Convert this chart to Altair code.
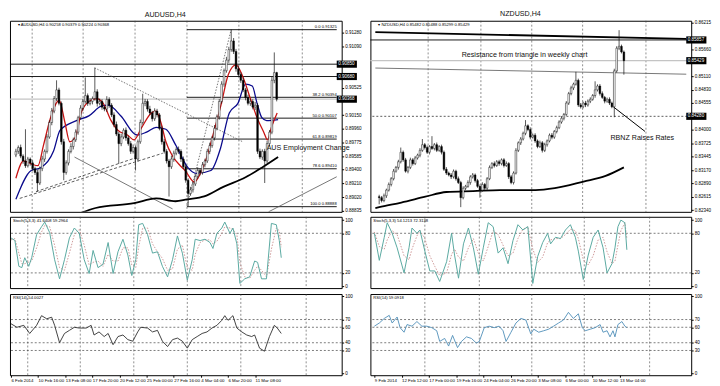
import altair as alt
import pandas as pd

FONT = "Liberation Sans"

# ===================== AUDUSD, H4 =====================
AUD_OPEN0 = 0.89600
AUD_CLOSE = [
    0.89650, 0.89703, 0.89584, 0.89518, 0.89452, 0.89544, 0.89491, 0.89412, 0.89359, 0.89214,
    0.89412, 0.89544, 0.89650, 0.89848, 0.90047, 0.90205, 0.90377, 0.90496, 0.90311, 0.89782,
    0.89359, 0.89491, 0.89650, 0.89716, 0.89809, 0.89914, 0.90113, 0.90245, 0.90337, 0.90417,
    0.90311, 0.90337, 0.90377, 0.90470, 0.90311, 0.90337, 0.90258, 0.90232, 0.90364, 0.90285,
    0.90152, 0.90020, 0.89888, 0.89756, 0.89848, 0.89941, 0.89835, 0.89756, 0.89650, 0.89703,
    0.89544, 0.89782, 0.90047, 0.90311, 0.90337, 0.90232, 0.90179, 0.90099, 0.90205, 0.90152,
    0.89967, 0.89782, 0.89650, 0.89518, 0.89438, 0.89544, 0.89624, 0.89676, 0.89650, 0.89544,
    0.89438, 0.89253, 0.89068, 0.89121, 0.89201, 0.89306, 0.89386, 0.89359, 0.89465, 0.89518,
    0.89650, 0.89729, 0.89835, 0.89967, 0.90126, 0.90337, 0.90575, 0.90760, 0.90906, 0.91051,
    0.91170, 0.91025, 0.90787, 0.90708, 0.90628, 0.90496, 0.90390, 0.90311, 0.90337, 0.90258,
    0.90285, 0.89650, 0.89571, 0.89650, 0.89518, 0.89756, 0.89914, 0.90628, 0.90734, 0.90368,
]
# wick lengths above the body / below the body, in points (1e-5)
AUD_UP = [
    35, 28, 40, 25, 436, 30, 22, 35, 28, 40,
    30, 45, 26, 38, 30, 42, 35, 132, 30, 25,
    40, 35, 28, 45, 30, 38, 26, 40, 35, 251,
    30, 45, 28, 330, 35, 40, 30, 25, 45, 30,
    28, 35, 40, 30, 45, 26, 38, 30, 35, 42,
    28, 30, 40, 132, 35, 30, 45, 28, 38, 30,
    25, 35, 40, 30, 28, 45, 35, 30, 40, 28,
    35, 30, 25, 40, 35, 30, 45, 28, 38, 30,
    35, 40, 28, 45, 30, 35, 40, 30, 45, 38,
    160, 40, 35, 45, 30, 38, 28, 40, 35, 30,
    45, 30, 38, 28, 35, 40, 30, 45, 278, 11,
]
AUD_DN = [
    30, 35, 28, 40, 30, 25, 38, 30, 35, 119,
    28, 35, 40, 30, 25, 38, 30, 35, 28, 40,
    106, 30, 35, 28, 40, 30, 35, 25, 38, 30,
    35, 28, 40, 30, 45, 28, 35, 30, 40, 35,
    30, 38, 28, 278, 35, 30, 40, 28, 35, 30,
    158, 35, 28, 30, 40, 35, 28, 38, 30, 35,
    28, 40, 30, 35, 410, 30, 38, 28, 35, 40,
    30, 35, 172, 30, 38, 28, 35, 40, 30, 35,
    28, 38, 30, 35, 28, 40, 30, 35, 28, 38,
    30, 35, 40, 28, 35, 30, 38, 28, 35, 30,
    40, 35, 28, 38, 304, 30, 35, 28, 40, 30,
]
AUD_RED_I = [0, 3.2, 6.4, 9.2, 11.6, 14.5, 18.1, 20.5, 22.5, 24.9, 27.3, 30.5, 33.7, 36.5, 39.8,
             42.6, 46.6, 49.4, 52.6, 56.6, 58.6, 60.6, 62.7, 65.5, 68.7, 70.7, 74.7, 76.7, 79.9,
             82.7, 85.9, 88.8, 92.0, 94.8, 98.0, 100.8, 103.6, 105.2, 106.8, 109.2]
AUD_RED_V = [0.89280, 0.89518, 0.89478, 0.89452, 0.89743, 0.90113, 0.90351, 0.90047, 0.89782,
             0.89848, 0.90179, 0.90337, 0.90377, 0.90311, 0.90073, 0.89941, 0.89875, 0.89809,
             0.89980, 0.90179, 0.90205, 0.90047, 0.89782, 0.89584, 0.89452, 0.89386, 0.89227,
             0.89319, 0.89584, 0.89914, 0.90311, 0.90708, 0.90840, 0.90681, 0.90377, 0.90113,
             0.89914, 0.89809, 0.89980, 0.90179]
AUD_BLUE_I = [0, 6.4, 10.4, 15.7, 18.5, 25.3, 30.5, 35.7, 38.6, 43.8, 50.6, 54.6, 58.6, 62.7,
              66.7, 71.9, 75.5, 81.5, 85.5, 89.2, 92.8, 96.0, 98.8, 100.8, 102.8, 104.8, 109.6]
AUD_BLUE_V = [0.88989, 0.89386, 0.89425, 0.89650, 0.89941, 0.90073, 0.90139, 0.90271, 0.90285,
              0.90139, 0.89875, 0.89914, 0.89980, 0.89954, 0.89743, 0.89425, 0.89346, 0.89386,
              0.89690, 0.90179, 0.90311, 0.90575, 0.90549, 0.90311, 0.90113, 0.90073, 0.90086]
AUD_MA200_I = [27.0, 33.3, 49.4, 58.6, 66.7, 71.5, 78.7, 86.7, 96.0, 102.8, 109.6]
AUD_MA200_V = [0.88800, 0.88870, 0.88936, 0.89002, 0.88963, 0.88989, 0.89029, 0.89161, 0.89293,
               0.89425, 0.89571]
AUD_YTICKS = [0.91280, 0.91090, 0.90905, 0.90715, 0.90525, 0.90340, 0.90150, 0.89960, 0.89775,
              0.89585, 0.89400, 0.89210, 0.89020, 0.88835]
AUD_HLINES = [0.90850, 0.90680]
AUD_BID = 0.90368
AUD_BOXES = [0.90850, 0.90680, 0.90368]
AUD_FIB_START = 71.5
AUD_FIB_LEVELS = [0.0, 38.2, 50.0, 61.8, 78.6, 100.0]
AUD_FIB_PRICES = [0.91325, 0.90394, 0.90107, 0.89819, 0.89410, 0.88888]
AUD_SEG_DOT = [(32.9, 0.90800, 94.8, 0.89782), (71.5, 0.88896, 90.0, 0.91329)]
AUD_SEG_DASH = [(1.6, 0.89002, 61.4, 0.89624), (8.4, 0.89095, 49.8, 0.89558)]
AUD_SEG_THIN = [(24.5, 0.89571, 65.5, 0.88857), (105.6, 0.88817, 134.1, 0.89300)]
AUD_NOTES = [(104.8, 0.89690, "AUS Employment Change")]
AUD_HEADER = "\u25be AUDUSD,H4  0.90258 0.90379 0.90224 0.90368"
AUD_VGRID = [6.8, 28.1, 49.8, 71.5, 93.2, 119.7]
AUD_XTICKS = [0, 11, 22, 33, 44, 55, 66, 77, 88, 99]
AUD_XLABELS = ["6 Feb 2014", "10 Feb 16:00", "13 Feb 08:00", "17 Feb 20:00", "20 Feb 12:00",
               "25 Feb 00:00", "27 Feb 16:00", "4 Mar 04:00", "6 Mar 20:00", "11 Mar 08:00"]
AUD_STK_I = [0, 1.6, 3.2, 4.4, 5.6, 7.2, 8.4, 10.4, 12.4, 13.7, 15.7, 17.7, 19.7, 21.7, 23.7,
             25.7, 27.7, 29.7, 31.7, 33.3, 35.3, 37.3, 39.4, 41.4, 43.4, 45.4, 47.4, 49.0, 50.6,
             51.8, 53.4, 55.4, 57.4, 59.4, 61.4, 63.5, 65.5, 67.5, 69.5, 71.5, 73.5, 74.7, 76.7,
             78.7, 80.7, 81.9, 83.5, 85.5, 86.7, 88.8, 90.0, 91.6, 92.8, 94.8, 96.8, 98.8, 100.0,
             101.6, 103.6, 105.6, 107.6, 108.8, 109.6]
AUD_STK_K = [73, 69, 30, 28, 43, 30, 43, 78, 90, 97, 81, 40, 11, 40, 73, 88, 80, 40, 19, 54,
             28, 33, 66, 19, 52, 71, 47, 16, 40, 93, 95, 78, 50, 52, 30, 14, 40, 76, 50, 9,
             40, 71, 69, 71, 66, 57, 80, 88, 97, 80, 88, 64, 4, 11, 14, 38, 36, 11, 11, 95,
             93, 69, 43]
AUD_STK_D = [70, 72, 50, 34, 34, 36, 38, 58, 82, 92, 90, 62, 28, 24, 50, 78, 86, 62, 32, 36,
             38, 30, 48, 38, 38, 58, 58, 32, 28, 60, 88, 88, 64, 52, 42, 24, 26, 56, 62, 28,
             24, 48, 66, 70, 70, 64, 68, 80, 90, 88, 86, 78, 36, 14, 12, 24, 30, 24, 14, 56,
             88, 84, 59]
AUD_RSI_I = [0, 2.4, 5.2, 7.6, 10.4, 12.4, 14.5, 16.5, 17.7, 19.7, 21.7, 23.7, 25.7, 27.7, 30.5,
             32.5, 33.7, 35.7, 37.8, 39.4, 41.4, 43.4, 45.4, 47.4, 49.4, 51.4, 52.6, 55.4, 57.4,
             59.4, 61.4, 63.5, 65.5, 67.5, 69.5, 71.5, 73.5, 75.5, 77.5, 79.5, 81.5, 83.5, 85.5,
             86.7, 88.0, 90.0, 91.6, 93.6, 95.6, 97.6, 98.8, 100.8, 102.8, 104.8, 106.8, 108.0,
             109.6]
AUD_RSI_V = [64.6, 60, 62.5, 52, 62.5, 75, 71, 73, 62.5, 40, 52, 56, 60, 59, 59, 62.5, 50, 54,
             48, 52, 37.5, 48, 50, 44, 42, 54, 60, 59, 54, 56, 42, 35, 44, 46, 42, 33, 44, 48,
             52, 54, 59, 62.5, 69, 75, 69, 75, 59, 54, 50, 48, 50, 33, 29, 48, 62.5, 59, 52]
AUD_STOCH_HEADER = "Stoch(5,3,3) 41.6408 59.2964"
AUD_RSI_HEADER = "RSI(14) 54.0027"

# ===================== NZDUSD, H4 =====================
NZD_OPEN0 = 0.82620
NZD_CLOSE = [
    0.82600, 0.82541, 0.82639, 0.82756, 0.82873, 0.82991, 0.83147, 0.83225, 0.83342, 0.83538,
    0.83381, 0.83147, 0.83225, 0.83381, 0.83303, 0.83421, 0.83479, 0.83577, 0.83694, 0.83635,
    0.83538, 0.83655, 0.83616, 0.83694, 0.83577, 0.83655, 0.83538, 0.83186, 0.83108, 0.83069,
    0.83030, 0.83147, 0.82991, 0.82912, 0.82600, 0.82795, 0.82834, 0.82912, 0.83030, 0.83069,
    0.82952, 0.82834, 0.82756, 0.82873, 0.82795, 0.82991, 0.83225, 0.83303, 0.83264, 0.83342,
    0.83303, 0.83381, 0.83264, 0.83303, 0.83030, 0.82912, 0.83108, 0.83577, 0.83733, 0.83811,
    0.83929, 0.84085, 0.84007, 0.83850, 0.83890, 0.83772, 0.83655, 0.83733, 0.83577, 0.83694,
    0.83772, 0.83890, 0.83850, 0.83968, 0.84046, 0.84163, 0.84241, 0.84319, 0.84554, 0.84749,
    0.84867, 0.84945, 0.85023, 0.84515, 0.84476, 0.84554, 0.84515, 0.84593, 0.84632, 0.84710,
    0.84827, 0.84906, 0.84749, 0.84671, 0.84593, 0.84632, 0.84554, 0.84476, 0.85218, 0.85687,
    0.85726, 0.85609, 0.85429,
]
NZD_UP = [
    40, 35, 45, 30, 40, 35, 45, 30, 40, 97,
    35, 40, 30, 45, 35, 40, 30, 45, 117, 35,
    40, 30, 215, 35, 45, 30, 40, 35, 45, 30,
    40, 35, 30, 45, 35, 40, 30, 45, 35, 40,
    30, 35, 40, 45, 30, 35, 40, 30, 45, 35,
    40, 30, 35, 45, 30, 40, 35, 45, 30, 40,
    35, 117, 30, 45, 35, 40, 30, 45, 35, 40,
    30, 35, 45, 30, 40, 35, 45, 30, 40, 35,
    45, 30, 176, 35, 40, 30, 45, 35, 40, 30,
    176, 35, 40, 45, 30, 35, 40, 30, 45, 40,
    333, 35, 30,
]
NZD_DN = [
    137, 40, 35, 45, 30, 40, 35, 30, 45, 35,
    40, 30, 45, 35, 40, 30, 35, 45, 30, 40,
    35, 45, 30, 40, 35, 30, 45, 35, 40, 30,
    45, 35, 40, 30, 196, 35, 40, 30, 45, 35,
    40, 30, 156, 35, 40, 45, 30, 35, 40, 30,
    45, 35, 40, 30, 45, 35, 40, 30, 35, 45,
    30, 40, 35, 45, 30, 40, 35, 30, 45, 35,
    40, 30, 45, 35, 40, 30, 35, 45, 30, 40,
    35, 45, 30, 40, 35, 30, 45, 35, 40, 30,
    45, 35, 40, 30, 45, 35, 40, 30, 215, 35,
    40, 30, 289,
]
NZD_MA200_I = [-1.6, 0, 9.2, 19.2, 28.0, 39.2, 50.4, 65.2, 73.2, 85.2, 94.4, 102.0]
NZD_MA200_V = [0.82385, 0.82404, 0.82499, 0.82619, 0.82717, 0.82736, 0.82756, 0.82756, 0.82795,
               0.82932, 0.83049, 0.83225]
NZD_YTICKS = [0.86215, 0.85940, 0.85660, 0.85385, 0.85110, 0.84830, 0.84555, 0.84280, 0.84000,
              0.83725, 0.83445, 0.83170, 0.82890, 0.82615, 0.82340]
NZD_HLINES = [0.85857]
NZD_HDOT = [0.84280]
NZD_BID = 0.85429
NZD_BOXES = [0.85857, 0.85429, 0.84280]
NZD_SEG_THICK = [(-1.6, 0.86019, 128.0, 0.85880)]
NZD_SEG_THIN = [(-1.6, 0.85277, 128.0, 0.85150)]
NZD_SEG_BLACK = [(97.6, 0.84476, 110.8, 0.83968)]
NZD_NOTES = [(34.4, 0.85541, "Resistance from triangle in weekly chart"),
             (96.4, 0.83841, "RBNZ Raises Rates")]
NZD_HEADER = "\u25be NZDUSD,H4  0.85482 0.85488 0.85299 0.85429"
NZD_VGRID = [20.4, 42.4, 63.6, 84.8, 111.2]
NZD_XTICKS = [0, 11, 22, 33, 44, 55, 66, 77, 88, 99]
NZD_XLABELS = ["9 Feb 2014", "12 Feb 12:00", "17 Feb 00:00", "19 Feb 16:00", "24 Feb 04:00",
               "26 Feb 20:00", "3 Mar 08:00", "6 Mar 00:00", "10 Mar 12:00", "13 Mar 04:00"]
NZD_STK_I = [0, 2, 4, 5.2, 7.2, 9.2, 12, 14, 15.2, 17.2, 18.4, 20.4, 22.4, 24.4, 26.4, 29.2,
             31.2, 32.4, 34, 36, 38, 40, 42, 44, 46, 48, 50, 52, 54, 56, 58, 60, 62, 64, 66, 68,
             70, 71.2, 73.2, 75.2, 77.2, 79.2, 81.2, 82.4, 84.4, 86.4, 88.4, 90.4, 92.4, 94, 96,
             97.2, 98.4, 99.6, 101.2, 102]
NZD_STK_K = [80, 39, 74, 96, 80, 58, 20, 58, 88, 80, 85, 53, 23, 23, 7, 37, 80, 47, 12, 64,
             88, 58, 18, 58, 96, 90, 50, 58, 34, 69, 93, 85, 90, 4, 45, 66, 80, 64, 74, 72,
             85, 93, 74, 53, 10, 47, 74, 85, 58, 20, 34, 58, 90, 100, 96, 55]
NZD_STK_D = [82, 60, 56, 70, 84, 78, 46, 40, 56, 76, 84, 72, 46, 30, 16, 20, 48, 56, 44, 38,
             58, 72, 50, 38, 60, 84, 78, 62, 46, 50, 72, 86, 90, 56, 36, 44, 66, 70, 72, 72,
             78, 86, 84, 72, 40, 32, 46, 70, 74, 52, 34, 38, 62, 84, 96, 72]
NZD_RSI_I = [0, 2, 4, 6, 7.2, 9.2, 10.4, 12, 13.2, 15.2, 17.2, 19.2, 21.2, 23.2, 25.2, 26.4,
             28.4, 30, 31.6, 33.6, 35.2, 37.2, 39.2, 41.2, 42.4, 44.4, 46.4, 48.4, 50.4, 52,
             53.2, 55.2, 57.2, 59.2, 61.2, 63.2, 64.4, 66.4, 68.4, 70.4, 72.4, 74.4, 76.4, 78.4,
             80.4, 82.4, 84, 85.2, 87.2, 89.2, 91.2, 92.4, 94, 95.2, 96.4, 97.2, 98.4, 100,
             101.2, 102]
NZD_RSI_V = [61.4, 65.5, 71.4, 75.4, 65.5, 73.3, 59.5, 53.6, 63.5, 61.4, 67.4, 61.4, 61.4, 59.5,
             55.5, 41.7, 45.6, 35.7, 49.5, 33.7, 41.7, 47.6, 45.6, 39.6, 41.7, 59.5, 61.4, 59.5,
             61.4, 55.5, 41.7, 53.6, 65.5, 71.4, 69.4, 51.5, 57.5, 53.6, 55.5, 57.5, 61.4, 65.5,
             69.4, 79.3, 71.4, 77.4, 59.5, 55.5, 57.5, 59.5, 63.5, 53.6, 55.5, 47.6, 55.5, 47.6,
             63.5, 67.4, 61.4, 59.5]
NZD_STOCH_HEADER = "Stoch(5,3,3) 54.1213 72.3138"
NZD_RSI_HEADER = "RSI(14) 59.0918"

STOCH_LEVELS = [20, 80]
STOCH_TICKS = [0, 20, 80, 100]
RSI_LEVELS = [30, 40, 60, 70]
RSI_TICKS = [0, 30, 40, 60, 70, 100]


def candle_frame(open0, closes, up_pts, dn_pts):
    rows = []
    o = open0
    for i, c in enumerate(closes):
        rows.append({"i": i, "o": o, "c": c,
                     "h": max(o, c) + up_pts[i] / 1e5,
                     "l": min(o, c) - dn_pts[i] / 1e5,
                     "d": "up" if c >= o else "dn"})
        o = c
    return pd.DataFrame(rows)


def seg_frame(segs):
    return pd.DataFrame(segs, columns=["x1", "y1", "x2", "y2"])


def price_pane(s, W, H):
    xs = alt.Scale(domain=s["xdom"], nice=False, zero=False)
    ys = alt.Scale(domain=s["ydom"], nice=False, zero=False)
    span = s["ydom"][1] - s["ydom"][0]
    half = span * 3.6 / H
    # axis labels hidden behind the black price boxes (as on the terminal)
    ticks = [t for t in s["yticks"] if all(abs(t - b) > half * 1.6 for b in s["boxes"])]
    yax = alt.Axis(orient="right", values=ticks, format=".5f", labelFontSize=4.6,
                   labelFont=FONT, labelColor="#000", tickSize=2, tickColor="#000",
                   domain=False, grid=False, title=None, labelPadding=1,
                   labelOverlap=False, labelBound=False)

    def X(f):
        return alt.X(f, type="quantitative", scale=xs, axis=None)

    def Y(f):
        return alt.Y(f, type="quantitative", scale=ys, axis=yax)

    L = []
    L.append(alt.Chart(pd.DataFrame({"i": s["vgrid"]})).mark_rule(
        color="#444", strokeWidth=0.6, strokeDash=[2, 2]).encode(x=X("i")))
    L.append(alt.Chart(pd.DataFrame({"y": [s["bid"]]})).mark_rule(
        color="#c4c4c4", strokeWidth=1.3).encode(y=Y("y")))
    L.append(alt.Chart(pd.DataFrame({"y": s["hlines"]})).mark_rule(
        color="#000", strokeWidth=0.9).encode(y=Y("y")))
    if s.get("hdot"):
        L.append(alt.Chart(pd.DataFrame({"y": s["hdot"]})).mark_rule(
            color="#333", strokeWidth=0.8, strokeDash=[2, 2]).encode(y=Y("y")))
    if s.get("fib_levels"):
        fib = pd.DataFrame({"x1": s["fib_start"], "x2": s["xdom"][1] - 0.01,
                            "y": s["fib_prices"],
                            "t": [f"{lv:.1f} {p:.5f}" for lv, p in
                                  zip(s["fib_levels"], s["fib_prices"])]})
        L.append(alt.Chart(fib).mark_rule(color="#000", strokeWidth=0.9).encode(
            x=X("x1"), x2="x2:Q", y=Y("y")))
        L.append(alt.Chart(fib).mark_text(align="right", baseline="bottom", dy=-0.5,
                                          fontSize=4.2, font=FONT, color="#000").encode(
            x=X("x2"), y=Y("y"), text="t:N"))
    seg_styles = {
        "dot": dict(color="#555", strokeWidth=0.8, strokeDash=[1.5, 1.5]),
        "dash": dict(color="#333", strokeWidth=0.8, strokeDash=[3, 2]),
        "thin": dict(color="#555", strokeWidth=0.8),
        "thick": dict(color="#000", strokeWidth=1.8),
        "black": dict(color="#000", strokeWidth=1.0),
    }
    for key, st in seg_styles.items():
        segs = s.get("seg_" + key)
        if segs:
            L.append(alt.Chart(seg_frame(segs)).mark_rule(clip=True, **st).encode(
                x=X("x1"), y=Y("y1"), x2="x2:Q", y2="y2:Q"))
    for (mi, mv, col, sw) in s["mas"]:
        L.append(alt.Chart(pd.DataFrame({"i": mi, "v": mv})).mark_line(
            color=col, strokeWidth=sw, interpolate="monotone", clip=True).encode(
            x=X("i"), y=Y("v")))
    cdf = s["candles"]
    L.append(alt.Chart(cdf).mark_rule(color="#111", strokeWidth=0.7).encode(
        x=X("i"), y=Y("l"), y2="h:Q"))
    L.append(alt.Chart(cdf).mark_bar(size=1.7, stroke="#000", strokeWidth=0.45).encode(
        x=X("i"), y=Y("o"), y2="c:Q",
        color=alt.Color("d:N", scale=alt.Scale(domain=["up", "dn"],
                                               range=["#ffffff", "#000000"]), legend=None)))
    notes = pd.DataFrame(s["notes"], columns=["i", "y", "t"])
    L.append(alt.Chart(notes).mark_text(align="left", baseline="middle", fontSize=7.2,
                                        font=FONT, color="#111").encode(
        x=X("i"), y=Y("y"), text="t:N"))
    L.append(alt.Chart(pd.DataFrame({"i": [s["xdom"][0] + 1.2], "y": [s["ydom"][1]],
                                     "t": [s["header"]]})).mark_text(
        align="left", baseline="top", dy=2, fontSize=4.2, font=FONT, color="#000").encode(
        x=X("i"), y=Y("y"), text="t:N"))
    bw = 21.0 * (s["xdom"][1] - s["xdom"][0]) / W
    boxes = pd.DataFrame({"x1": s["xdom"][1], "x2": s["xdom"][1] + bw,
                          "y1": [b - half for b in s["boxes"]],
                          "y2": [b + half for b in s["boxes"]],
                          "y": s["boxes"], "t": [f"{b:.5f}" for b in s["boxes"]]})
    L.append(alt.Chart(boxes).mark_rect(color="#000").encode(
        x=X("x1"), x2="x2:Q", y=Y("y1"), y2="y2:Q"))
    L.append(alt.Chart(boxes).mark_text(align="left", baseline="middle", dx=1.5,
                                        fontSize=4.6, font=FONT, color="#fff").encode(
        x=X("x1"), y=Y("y"), text="t:N"))
    return alt.layer(*L).properties(width=W, height=H)


def osc_pane(s, W, H, kind):
    xs = alt.Scale(domain=s["xdom"], nice=False, zero=False)
    if kind == "stoch":
        ydom, ticks, levels = [-3, 105], STOCH_TICKS, STOCH_LEVELS
    else:
        ydom, ticks, levels = [-2, 103], RSI_TICKS, RSI_LEVELS
    ys = alt.Scale(domain=ydom, nice=False, zero=False)
    yax = alt.Axis(orient="right", values=ticks, format="d", labelFontSize=4.6,
                   labelFont=FONT, labelColor="#000", tickSize=2, tickColor="#000",
                   domain=False, grid=False, title=None, labelPadding=1,
                   labelOverlap=False, labelBound=False)
    if kind == "rsi":
        arr = "[" + ",".join(f"'{t}'" for t in s["xlabels"]) + "]"
        tk = "[" + ",".join(str(t) for t in s["xticks"]) + "]"
        xax = alt.Axis(orient="bottom", values=s["xticks"],
                       labelExpr=f"{arr}[indexof({tk}, datum.value)]",
                       labelAlign="left", labelFontSize=4.4, labelFont=FONT,
                       labelColor="#000", tickSize=2, tickColor="#000", domain=False,
                       grid=False, title=None, labelPadding=1, labelOverlap=False,
                       labelBound=False, labelFlush=False)
    else:
        xax = None

    def X(f):
        return alt.X(f, type="quantitative", scale=xs, axis=xax)

    def Y(f):
        return alt.Y(f, type="quantitative", scale=ys, axis=yax)

    L = []
    L.append(alt.Chart(pd.DataFrame({"i": s["vgrid"]})).mark_rule(
        color="#444", strokeWidth=0.6, strokeDash=[2, 2]).encode(x=X("i")))
    L.append(alt.Chart(pd.DataFrame({"y": levels})).mark_rule(
        color="#444", strokeWidth=0.7, strokeDash=[2, 2]).encode(y=Y("y")))
    if kind == "stoch":
        L.append(alt.Chart(pd.DataFrame({"i": s["stk_i"], "v": s["stk_d"]})).mark_line(
            color="#c98f8f", strokeWidth=0.9, strokeDash=[1.5, 1.5]).encode(
            x=X("i"), y=Y("v")))
        L.append(alt.Chart(pd.DataFrame({"i": s["stk_i"], "v": s["stk_k"]})).mark_line(
            color="#5aa9a1", strokeWidth=1.0).encode(x=X("i"), y=Y("v")))
        head = s["stoch_header"]
    else:
        L.append(alt.Chart(pd.DataFrame({"i": s["rsi_i"], "v": s["rsi_v"]})).mark_line(
            color=s["rsi_color"], strokeWidth=0.9).encode(x=X("i"), y=Y("v")))
        head = s["rsi_header"]
    L.append(alt.Chart(pd.DataFrame({"i": [s["xdom"][0] + 1.2], "y": [ydom[1]],
                                     "t": [head]})).mark_text(
        align="left", baseline="top", dy=2, fontSize=4.2, font=FONT, color="#000").encode(
        x=X("i"), y=Y("y"), text="t:N"))
    return alt.layer(*L).properties(width=W, height=H)


def column(s, W, title):
    p = price_pane(s, W, 193)
    st = osc_pane(s, W, 72, "stoch")
    r = osc_pane(s, W, 82, "rsi")
    return alt.vconcat(p, st, r, spacing=3,
                       title=alt.TitleParams(title, fontSize=7.2, font=FONT,
                                             fontWeight="normal", color="#111",
                                             anchor="middle", offset=2, dx=-20))


aud = dict(
    xdom=[-0.4, 134.1], ydom=[0.88817, 0.91448], yticks=AUD_YTICKS,
    candles=candle_frame(AUD_OPEN0, AUD_CLOSE, AUD_UP, AUD_DN),
    mas=[(AUD_MA200_I, AUD_MA200_V, "#000000", 1.8),
         (AUD_BLUE_I, AUD_BLUE_V, "#0a0a8c", 1.3),
         (AUD_RED_I, AUD_RED_V, "#c81414", 1.3)],
    hlines=AUD_HLINES, bid=AUD_BID, boxes=AUD_BOXES,
    fib_start=AUD_FIB_START, fib_levels=AUD_FIB_LEVELS, fib_prices=AUD_FIB_PRICES,
    seg_dot=AUD_SEG_DOT, seg_dash=AUD_SEG_DASH, seg_thin=AUD_SEG_THIN,
    notes=AUD_NOTES, header=AUD_HEADER, vgrid=AUD_VGRID,
    xticks=AUD_XTICKS, xlabels=AUD_XLABELS,
    stk_i=AUD_STK_I, stk_k=AUD_STK_K, stk_d=AUD_STK_D,
    rsi_i=AUD_RSI_I, rsi_v=AUD_RSI_V, rsi_color="#2e2e2e",
    stoch_header=AUD_STOCH_HEADER, rsi_header=AUD_RSI_HEADER,
)
nzd = dict(
    xdom=[-1.6, 128.0], ydom=[0.82307, 0.86254], yticks=NZD_YTICKS,
    candles=candle_frame(NZD_OPEN0, NZD_CLOSE, NZD_UP, NZD_DN),
    mas=[(NZD_MA200_I, NZD_MA200_V, "#000000", 1.8)],
    hlines=NZD_HLINES, hdot=NZD_HDOT, bid=NZD_BID, boxes=NZD_BOXES,
    seg_thick=NZD_SEG_THICK, seg_thin=NZD_SEG_THIN, seg_black=NZD_SEG_BLACK,
    notes=NZD_NOTES, header=NZD_HEADER, vgrid=NZD_VGRID,
    xticks=NZD_XTICKS, xlabels=NZD_XLABELS,
    stk_i=NZD_STK_I, stk_k=NZD_STK_K, stk_d=NZD_STK_D,
    rsi_i=NZD_RSI_I, rsi_v=NZD_RSI_V, rsi_color="#4f8fb8",
    stoch_header=NZD_STOCH_HEADER, rsi_header=NZD_RSI_HEADER,
)

chart = alt.hconcat(column(aud, 335, "AUDUSD,H4"), column(nzd, 324, "NZDUSD,H4"),
                    spacing=6, padding=0, background="#ffffff").configure_view(
    stroke="#000", strokeWidth=1).configure_concat(spacing=6)

chart.save("out.html", embed_options={"renderer": "svg", "actions": False})
